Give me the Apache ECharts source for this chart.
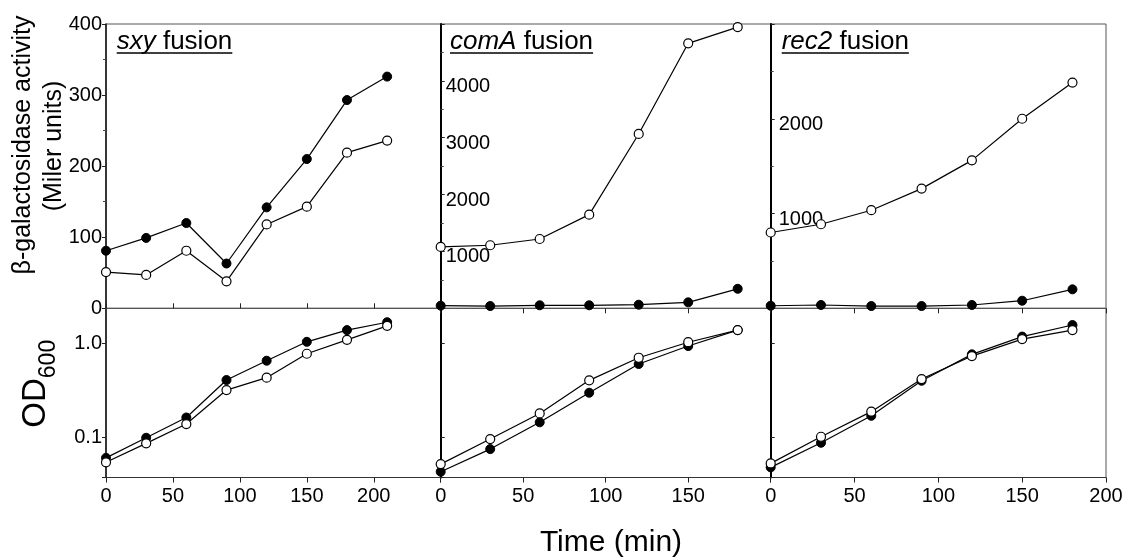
<!DOCTYPE html>
<html>
<head>
<meta charset="utf-8">
<title>lacZ fusion expression and growth</title>
<script src="https://cdn.jsdelivr.net/npm/echarts@6/dist/echarts.min.js"></script>
<style>
  html, body { margin: 0; padding: 0; background: #fff; }
  #chart { width: 1131px; height: 559px; }
</style>
</head>
<body>
<div id="chart"></div>
<script>
// Sampling times (min)
const timeSxy = [0, 30, 60, 90, 120, 150, 180, 210];
const timeComRec = [0, 30, 60, 90, 120, 150, 180];

// beta-galactosidase activity (Miller units); filled = closed circles, open = open circles
const sxyActFilled = [81, 99, 120, 63, 142, 210, 293, 326];
const sxyActOpen = [51, 47, 81, 38, 118, 143, 219, 236];
const comAActFilled = [46, 40, 53, 53, 63, 105, 343];
const comAActOpen = [1079, 1109, 1219, 1647, 3066, 4660, 4946];
const rec2ActFilled = [27, 35, 24, 24, 35, 80, 200];
const rec2ActOpen = [800, 887, 1035, 1263, 1561, 2000, 2382];

// Culture density (OD600)
const sxyOdFilled = [0.061, 0.0995, 0.163, 0.406, 0.650, 1.03, 1.37, 1.66];
const sxyOdOpen = [0.0547, 0.0868, 0.139, 0.318, 0.430, 0.770, 1.08, 1.52];
const comAOdFilled = [0.0435, 0.0755, 0.145, 0.298, 0.600, 0.929, 1.37];
const comAOdOpen = [0.0524, 0.0964, 0.180, 0.403, 0.699, 1.02, 1.37];
const rec2OdFilled = [0.0484, 0.0881, 0.170, 0.399, 0.759, 1.17, 1.55];
const rec2OdOpen = [0.0533, 0.102, 0.188, 0.416, 0.728, 1.10, 1.37];

// Tick labels
const sxyTimeTickLabels = ['0', '50', '100', '150', '200'];
const comATimeTickLabels = ['0', '50', '100', '150'];
const rec2TimeTickLabels = ['0', '50', '100', '150', '200'];
const sxyActTickLabels = ['0', '100', '200', '300', '400'];
const comAActTickLabels = ['1000', '2000', '3000', '4000'];
const rec2ActTickLabels = ['1000', '2000'];
const odTickLabels = ['0.1', '1.0'];

// Panel titles (gene name in italics)
const panelGenes = ['sxy', 'comA', 'rec2'];

const FONT = '"Liberation Sans", Arial, Helvetica, sans-serif';
const TICK_SIZE = 20;
const panelLeft = [106, 440.7, 770.7];
const panelRight = 1106;
const topY = 24, midY = 308.3, botY = 477.5;

const chart = echarts.init(document.getElementById('chart'), null, { renderer: 'canvas' });

function pair(xs, ys) { return xs.map((x, i) => [x, ys[i]]); }

function matchLabel(labels, v) {
  for (const s of labels) {
    if (Math.abs(parseFloat(s) - v) < 1e-6 * Math.max(1, Math.abs(v))) return s;
  }
  return '';
}
function listed(labels) {
  return v => matchLabel(labels, v);
}
// labels placed inside the panel, set a little below their tick
function listedLow(labels) {
  return v => {
    const s = matchLabel(labels, v);
    return s ? `{low|${s}}` : '';
  };
}
const lowRich = { low: { padding: [11, 0, 0, 0], fontFamily: FONT, fontSize: TICK_SIZE, color: '#000' } };

const grids = [];
for (let i = 0; i < 3; i++) {
  const w = (i < 2 ? panelLeft[i + 1] : panelRight) - panelLeft[i];
  grids.push({ left: panelLeft[i], top: topY, width: w, height: midY - topY,
    show: true, borderColor: '#555', borderWidth: 1, backgroundColor: 'transparent' });
}
for (let i = 0; i < 3; i++) {
  const w = (i < 2 ? panelLeft[i + 1] : panelRight) - panelLeft[i];
  grids.push({ left: panelLeft[i], top: midY, width: w, height: botY - midY,
    show: true, borderColor: '#555', borderWidth: 1, backgroundColor: 'transparent' });
}

const xMax = [250, 200, 200];
const timeTickLabels = [sxyTimeTickLabels, comATimeTickLabels, rec2TimeTickLabels];
const xAxes = [];
for (let i = 0; i < 3; i++) {
  xAxes.push({
    type: 'value', gridIndex: i, min: 0, max: xMax[i], interval: 50,
    axisLine: { show: true, lineStyle: { color: '#555', width: 1 } },
    axisTick: { show: true, inside: i === 0, length: 5, lineStyle: { color: '#222' } },
    axisLabel: { show: false }, splitLine: { show: false }
  });
}
for (let i = 0; i < 3; i++) {
  xAxes.push({
    type: 'value', gridIndex: 3 + i, min: 0, max: xMax[i], interval: 50,
    axisLine: { show: true, lineStyle: { color: '#333', width: 1 } },
    axisTick: { show: true, inside: false, length: 5, lineStyle: { color: '#222' } },
    axisLabel: { show: true, margin: 9, fontFamily: FONT, fontSize: TICK_SIZE, color: '#000',
      formatter: listed(timeTickLabels[i]) },
    splitLine: { show: false }
  });
}

const yAxes = [
  {
    type: 'value', gridIndex: 0, min: 0, max: 400, interval: 100,
    axisLine: { show: true, lineStyle: { color: '#111', width: 1.5 } },
    axisTick: { show: true, inside: false, length: 4, lineStyle: { color: '#222' } },
    minorTick: { show: true, splitNumber: 2, length: 3, lineStyle: { color: '#444' } },
    axisLabel: { margin: 4, fontFamily: FONT, fontSize: TICK_SIZE, color: '#000', formatter: listed(sxyActTickLabels) },
    splitLine: { show: false }, minorSplitLine: { show: false }
  },
  {
    type: 'value', gridIndex: 1, min: 0, max: 5000, interval: 1000,
    axisLine: { show: true, lineStyle: { color: '#000', width: 2 } },
    axisTick: { show: true, inside: true, length: 4, lineStyle: { color: '#222' } },
    minorTick: { show: true, splitNumber: 2, length: 3, lineStyle: { color: '#444' } },
    axisLabel: { inside: true, margin: 5, fontFamily: FONT, fontSize: TICK_SIZE, color: '#000',
      formatter: listedLow(comAActTickLabels), rich: lowRich },
    splitLine: { show: false }, minorSplitLine: { show: false }
  },
  {
    type: 'value', gridIndex: 2, min: 0, max: 3000, interval: 1000,
    axisLine: { show: true, lineStyle: { color: '#000', width: 2 } },
    axisTick: { show: true, inside: true, length: 4, lineStyle: { color: '#222' } },
    minorTick: { show: true, splitNumber: 2, length: 3, lineStyle: { color: '#444' } },
    axisLabel: { inside: true, margin: 8, fontFamily: FONT, fontSize: TICK_SIZE, color: '#000',
      formatter: listedLow(rec2ActTickLabels), rich: lowRich },
    splitLine: { show: false }, minorSplitLine: { show: false }
  }
];
for (let i = 0; i < 3; i++) {
  yAxes.push({
    type: 'log', logBase: 10, gridIndex: 3 + i, min: 0.0378, max: 2.33,
    axisLine: { show: true, lineStyle: { color: i === 0 ? '#111' : '#000', width: i === 0 ? 1.5 : 2 } },
    axisTick: { show: true, inside: i !== 0, length: 4, lineStyle: { color: '#222' } },
    axisLabel: { show: i === 0, margin: 4, fontFamily: FONT, fontSize: TICK_SIZE, color: '#000',
      formatter: listed(odTickLabels) },
    splitLine: { show: false }
  });
}

function lineSeries(idx, xs, ys, filled) {
  return {
    type: 'line', xAxisIndex: idx, yAxisIndex: idx, data: pair(xs, ys),
    symbol: 'circle', symbolSize: 9, showSymbol: true, clip: false,
    lineStyle: { color: '#000', width: 1.2 },
    itemStyle: filled ? { color: '#000', borderColor: '#000', borderWidth: 1 }
                      : { color: '#fff', borderColor: '#000', borderWidth: 1.2 },
    z: filled ? 3 : 4,
    emphasis: { disabled: true }
  };
}

const series = [
  lineSeries(0, timeSxy, sxyActFilled, true),
  lineSeries(0, timeSxy, sxyActOpen, false),
  lineSeries(1, timeComRec, comAActFilled, true),
  lineSeries(1, timeComRec, comAActOpen, false),
  lineSeries(2, timeComRec, rec2ActFilled, true),
  lineSeries(2, timeComRec, rec2ActOpen, false),
  lineSeries(3, timeSxy, sxyOdOpen, false),
  lineSeries(3, timeSxy, sxyOdFilled, true),
  lineSeries(4, timeComRec, comAOdFilled, true),
  lineSeries(4, timeComRec, comAOdOpen, false),
  lineSeries(5, timeComRec, rec2OdFilled, true),
  lineSeries(5, timeComRec, rec2OdOpen, false)
];

// Panel titles with underline
const measureCtx = document.createElement('canvas').getContext('2d');
function textWidth(str, font) { measureCtx.font = font; return measureCtx.measureText(str).width; }
const titleSize = 26;
const titleLeft = [116.7, 450, 781.7];
const graphic = [];
panelGenes.forEach((g, i) => {
  const w = textWidth(g, `italic ${titleSize}px ${FONT}`) + textWidth(' fusion', `${titleSize}px ${FONT}`);
  graphic.push({
    type: 'text', x: titleLeft[i], y: 42, z: 10,
    style: {
      text: `{i|${g}} fusion`, fill: '#000', font: `${titleSize}px ${FONT}`,
      align: 'left', verticalAlign: 'middle',
      rich: { i: { fontStyle: 'italic', fontSize: titleSize, fontFamily: FONT, fill: '#000' } }
    }
  });
  graphic.push({
    type: 'line', z: 10,
    shape: { x1: titleLeft[i], y1: 53, x2: titleLeft[i] + w, y2: 53 },
    style: { stroke: '#000', lineWidth: 1.5 }
  });
});

// Axis titles
graphic.push({
  type: 'text', x: 23, y: 145, rotation: Math.PI / 2, z: 10,
  style: { text: 'β-galactosidase activity', fill: '#000', font: `25px ${FONT}`, align: 'center', verticalAlign: 'middle' }
});
graphic.push({
  type: 'text', x: 54, y: 146, rotation: Math.PI / 2, z: 10,
  style: { text: '(Miler units)', fill: '#000', font: `25px ${FONT}`, align: 'center', verticalAlign: 'middle' }
});
graphic.push({
  type: 'text', x: 36, y: 403, rotation: Math.PI / 2, z: 10,
  style: { text: 'OD', fill: '#000', font: `33px ${FONT}`, align: 'center', verticalAlign: 'middle' }
});
graphic.push({
  type: 'text', x: 49, y: 359, rotation: Math.PI / 2, z: 10,
  style: { text: '600', fill: '#000', font: `23px ${FONT}`, align: 'center', verticalAlign: 'middle' }
});
graphic.push({
  type: 'text', x: 611, y: 543, z: 10,
  style: { text: 'Time (min)', fill: '#000', font: `30px ${FONT}`, align: 'center', verticalAlign: 'middle' }
});

chart.setOption({
  animation: false,
  backgroundColor: '#fff',
  grid: grids,
  xAxis: xAxes,
  yAxis: yAxes,
  series: series,
  graphic: graphic
});
</script>
</body>
</html>
